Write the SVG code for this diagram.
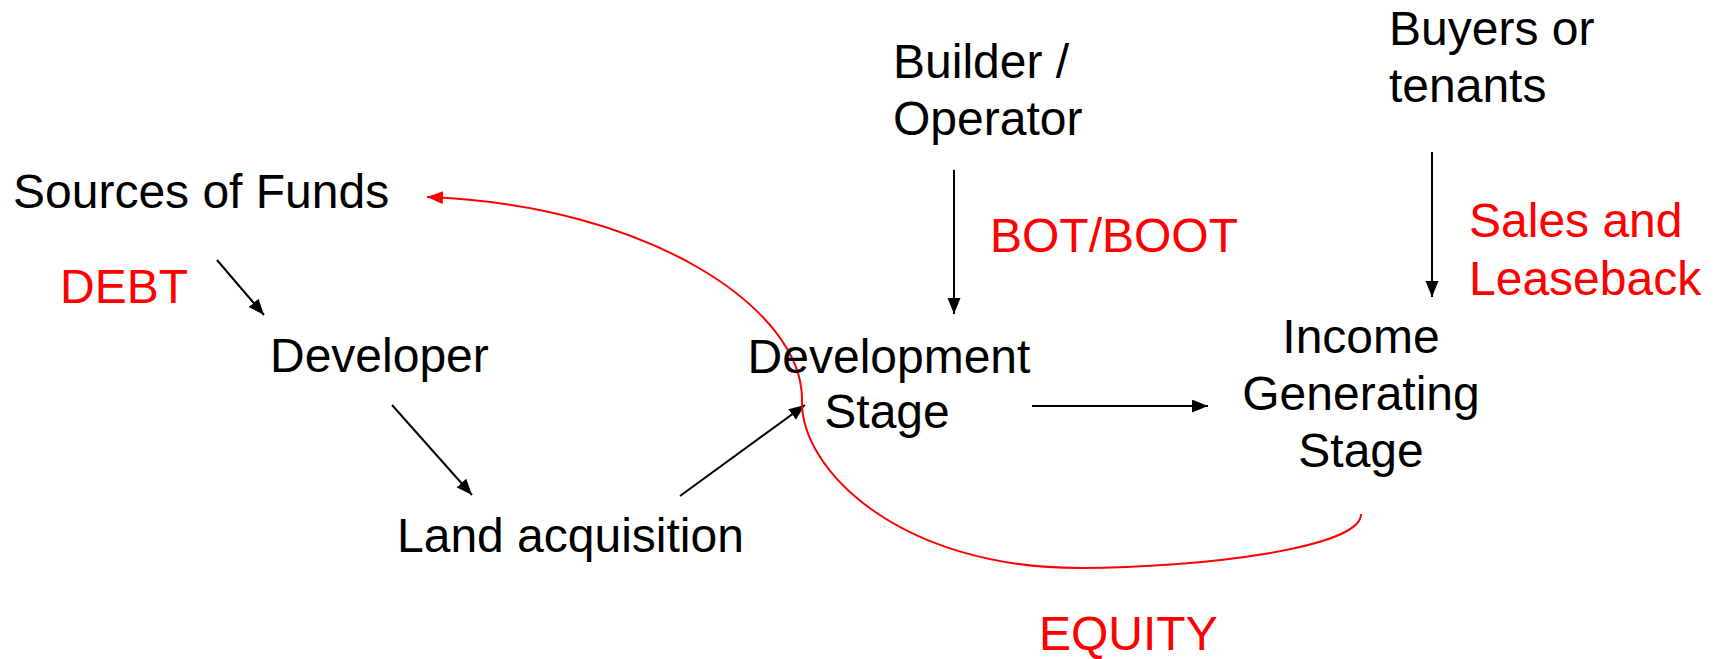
<svg xmlns="http://www.w3.org/2000/svg" width="1719" height="659" viewBox="0 0 1719 659">
<style>
.t{font-family:"Liberation Sans",Arial,sans-serif;font-size:48px;fill:#000}
.r{fill:#ff0000}
.c{text-anchor:middle}
.ln{stroke:#000;stroke-width:2;fill:none}
.rl{stroke:#ff0000;stroke-width:2;fill:none}
</style>
<defs>
<marker id="ab" markerUnits="userSpaceOnUse" markerWidth="18" markerHeight="14" refX="16" refY="6.5" orient="auto">
<path d="M0,0 L16,6.5 L0,13 z" fill="#000"/>
</marker>
<marker id="ar" markerUnits="userSpaceOnUse" markerWidth="18" markerHeight="14" refX="16" refY="6.5" orient="auto">
<path d="M0,0 L16,6.5 L0,13 z" fill="#ff0000"/>
</marker>
</defs>
<rect width="1719" height="659" fill="#fff"/>
<g id="connectors">
<line class="ln" x1="217" y1="260" x2="264" y2="315" marker-end="url(#ab)"/>
<line class="ln" x1="392" y1="405" x2="472" y2="495" marker-end="url(#ab)"/>
<line class="ln" x1="680" y1="496" x2="805" y2="405" marker-end="url(#ab)"/>
<line class="ln" x1="954" y1="170" x2="954" y2="314" marker-end="url(#ab)"/>
<line class="ln" x1="1432" y1="152" x2="1432" y2="297" marker-end="url(#ab)"/>
<line class="ln" x1="1032" y1="406" x2="1208" y2="406" marker-end="url(#ab)"/>
<path class="rl" d="M1361,514 C1362,548 1200,568 1080,568 C900,568 800,470 802,400 C803,310 650,205 427,197" marker-end="url(#ar)"/>
</g>
<g id="sources"><text class="t" x="13" y="208">Sources of Funds</text></g>
<g id="debt"><text class="t r" x="60" y="303">DEBT</text></g>
<g id="developer"><text class="t" x="270" y="372">Developer</text></g>
<g id="land"><text class="t" x="397" y="552">Land acquisition</text></g>
<g id="devstage"><text class="t c" x="889" y="373">Development</text><text class="t c" x="887" y="428">Stage</text></g>
<g id="builder"><text class="t" x="893" y="78">Builder /</text><text class="t" x="893" y="135">Operator</text></g>
<g id="bot"><text class="t r" x="990" y="252">BOT/BOOT</text></g>
<g id="income"><text class="t c" x="1361" y="353">Income</text><text class="t c" x="1361" y="410">Generating</text><text class="t c" x="1361" y="467">Stage</text></g>
<g id="buyers"><text class="t" x="1389" y="45">Buyers or</text><text class="t" x="1389" y="102">tenants</text></g>
<g id="sales"><text class="t r" x="1469" y="237">Sales and</text><text class="t r" x="1469" y="295">Leaseback</text></g>
<g id="equity"><text class="t r" x="1039" y="650">EQUITY</text></g>
</svg>
